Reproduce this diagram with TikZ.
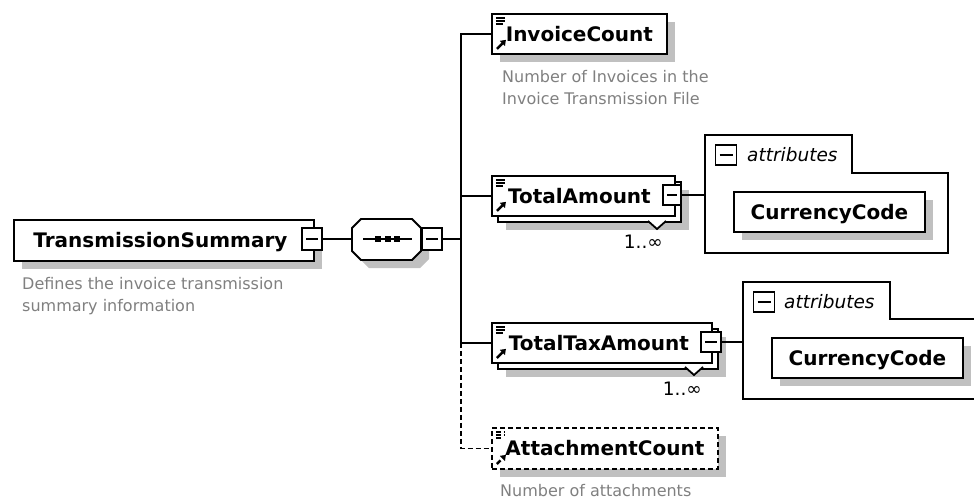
\documentclass[tikz,border=0pt]{standalone}
\usepackage{fontspec}
\setmainfont{DejaVu Sans}
\usetikzlibrary{shadows,arrows.meta,calc}
\definecolor{shd}{RGB}{192,192,192}
\definecolor{desccol}{RGB}{128,128,128}
\begin{document}
\begin{tikzpicture}[x=1pt,y=-1pt,
  lw/.style={line width=1.8pt},
  dsh/.style={dash pattern=on 5pt off 3pt},
  elem/.style={draw, fill=white, line width=1.8pt, inner sep=0pt, anchor=north west,
    minimum height=40pt, font=\fontsize{20}{24}\selectfont\bfseries,
    text height=14.6pt, text depth=0pt},
  shad/.style={drop shadow={shadow xshift=8pt, shadow yshift=-8pt, fill=shd, opacity=1}},
  multi/.style={drop shadow={shadow xshift=14pt, shadow yshift=-14pt, fill=shd, opacity=1},
    copy shadow={shadow xshift=6pt, shadow yshift=-6pt, draw=black, fill=white, line width=1.8pt}},
  icons/.style={path picture={
    \draw[line width=1.2pt] ([xshift=4pt,yshift=-4pt]path picture bounding box.north west) -- ++(9pt,0pt);
    \draw[line width=1.2pt] ([xshift=4pt,yshift=-7pt]path picture bounding box.north west) -- ++(9pt,0pt);
    \draw[line width=1.2pt] ([xshift=4pt,yshift=-10pt]path picture bounding box.north west) -- ++(7pt,0pt);
    \draw[line width=2.4pt,-{Triangle[length=5pt,width=7pt]}] ([xshift=5pt,yshift=5pt]path picture bounding box.south west) -- ++(9pt,9pt);
  }},
  minus/.style={draw, fill=white, line width=1.8pt, inner sep=0pt,
    path picture={\draw[line width=1.6pt] ([xshift=4pt]path picture bounding box.west) -- ([xshift=-4pt]path picture bounding box.east);}},
  desc/.style={anchor=north west, inner sep=0pt, align=left, text=desccol,
    font=\fontsize{16}{22}\selectfont},
  mult/.style={anchor=east, inner sep=0pt, font=\fontsize{18.5}{22}\selectfont},
  attrtxt/.style={anchor=west, inner sep=0pt, font=\fontsize{18.5}{22}\selectfont\itshape}
]
\useasboundingbox (0,0) rectangle (974,501);
\clip (0,0) rectangle (974,501);
\fill[white] (0,0) rectangle (974,501);

% root element
\node[elem, shad, minimum width=300pt, minimum height=41pt] (ts) at (13,219) {TransmissionSummary\hspace*{7pt}};
\node[minus, minimum width=20pt, minimum height=22pt] (tsm) at (312,239) {};
\node[desc] (tsd) at (22,277.5) {Defines the invoice transmission\\summary information};

% sequence compositor
\fill[shd] (369,227) -- (420,227) -- (429,236) -- (429,259) -- (420,268) -- (369,268) -- (360,259) -- (360,236) -- cycle;
\draw[lw, fill=white] (361,219) -- (412,219) -- (421,228) -- (421,251) -- (412,260) -- (361,260) -- (352,251) -- (352,228) -- cycle;
\coordinate (seqW) at (352,239);
\draw[lw] (363,239) -- (412,239);
\fill (375,236) rectangle ++(6,6);
\fill (384.5,236) rectangle ++(6,6);
\fill (394,236) rectangle ++(6,6);
\node[minus, minimum width=20pt, minimum height=22pt] (seqm) at (432,239) {};

% children
\node[elem, shad, icons, minimum width=175pt] (ic) at (491,13) {InvoiceCount};
\node[desc] (icd) at (502,70.5) {Number of Invoices in the\\Invoice Transmission File};

\node[elem, multi, icons, minimum width=183pt] (ta) at (491,175) {TotalAmount\hspace*{8pt}};
\filldraw[lw, fill=white] (648,221) -- (657,229) -- (666,221);
\node[minus, minimum width=18pt, minimum height=20pt] (tam) at (672,195) {};
\node[mult] (tamul) at (663,242) {1..∞};

\node[elem, multi, icons, minimum width=220pt] (tt) at (491,322) {TotalTaxAmount\hspace*{6pt}};
\filldraw[lw, fill=white] (685,367) -- (694,375) -- (703,367);
\node[minus, minimum width=20pt, minimum height=20pt] (ttm) at (711,342) {};
\node[mult] (ttmul) at (702,389) {1..∞};

\node[elem, shad, icons, dsh, minimum width=226pt, minimum height=41pt] (ac) at (491,427) {AttachmentCount};
\node[desc] (acd) at (500,484.5) {Number of attachments};

% attribute groups
\draw[lw, fill=white] (705,135) -- (852,135) -- (852,173) -- (948,173) -- (948,253) -- (705,253) -- cycle;
\coordinate (at1) at (705,195);
\node[minus, minimum width=21pt, minimum height=20pt] (at1m) at (726,155) {};
\node[attrtxt] (at1t) at (747,155) {attributes};
\node[elem, shad, minimum width=191pt] (cc1) at (733,191) {CurrencyCode};

\draw[lw, fill=white] (743,282) -- (890,282) -- (890,319) -- (990,319) -- (990,399) -- (743,399) -- cycle;
\coordinate (at2) at (743,342);
\node[minus, minimum width=21pt, minimum height=20pt] (at2m) at (764,302) {};
\node[attrtxt] (at2t) at (784,302) {attributes};
\node[elem, shad, minimum width=191pt] (cc2) at (771,337) {CurrencyCode};

% connectors
\coordinate (bus) at (461,239);
\coordinate (bustop) at (ic.west -| bus);
\coordinate (busbot) at (tt.west -| bus);
\draw[lw] (tsm.east) -- (seqW);
\draw[lw] (seqm.east) -- (bus);
\draw[lw] (ic.west) -- (bustop) -- (busbot) -- (tt.west);
\draw[lw] (ta.west) -- (ta.west -| bus);
\draw[lw, dsh] (busbot) |- (ac.west);
\draw[lw] (tam.east) -- (at1);
\draw[lw] (ttm.east) -- (at2);
\end{tikzpicture}
\end{document}
